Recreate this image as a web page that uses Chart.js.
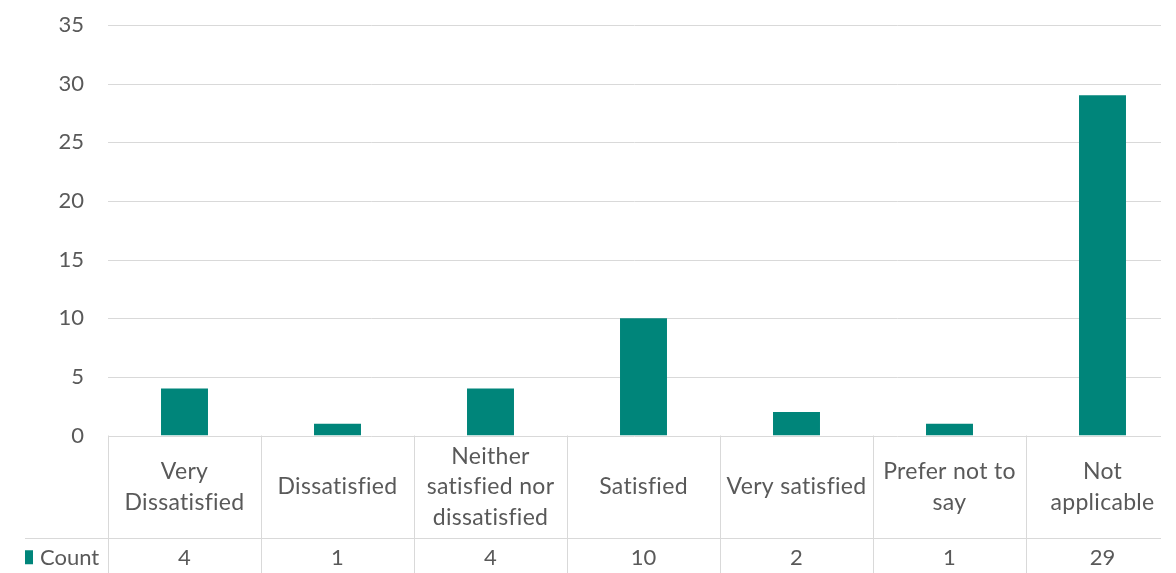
<!DOCTYPE html>
<html>
<head>
<meta charset="utf-8">
<script src="https://cdn.jsdelivr.net/npm/chart.js@4"></script>
<style>
  html, body { margin: 0; padding: 0; background: #fff; overflow: hidden; width: 1176px; height: 573px; }
  canvas { display: block; }
</style>
</head>
<body>
<canvas id="chart" width="1179" height="573" style="width:1179px;height:573px"></canvas>
<script>
// Survey responses: one count per answer
const categories = [
  ["Very", "Dissatisfied"],
  ["Dissatisfied"],
  ["Neither", "satisfied nor", "dissatisfied"],
  ["Satisfied"],
  ["Very satisfied"],
  ["Prefer not to", "say"],
  ["Not", "applicable"]
];
const counts = [4, 1, 4, 10, 2, 1, 29];
const seriesName = "Count";
const yMin = 0;
const yMax = 35;
const yStep = 5;

const BAR_COLOR = "#00857a";
const TEXT_COLOR = "#595959";
const LINE_COLOR = "#d9d9d9";
const FONT_FAMILY = "Lato, 'Open Sans', sans-serif";
const FONT_SIZE = 22;
const LABEL_FONT_SIZE = 23;

// Layout of the data table drawn under the plot
const GRID_RIGHT = 1161;      // where horizontal rules stop
const HEADER_BOTTOM = 538.5;  // rule between category row and value row
const TABLE_LEFT = 25;        // legend column starts here
const LINE_HEIGHT = 30.5;

const tablePlugin = {
  id: "dataTable",
  beforeDatasetsDraw(chart) {
    const { ctx, chartArea, scales } = chart;
    const y = scales.y;
    ctx.save();
    ctx.strokeStyle = LINE_COLOR;
    ctx.lineWidth = 1;
    // horizontal value gridlines
    y.ticks.forEach(t => {
      const py = Math.round(y.getPixelForValue(t.value)) + 0.5;
      ctx.beginPath();
      ctx.moveTo(chartArea.left, py);
      ctx.lineTo(GRID_RIGHT, py);
      ctx.stroke();
    });
    ctx.restore();
  },
  afterDraw(chart) {
    const { ctx, chartArea, scales } = chart;
    const x = scales.x;
    const bottom = chart.height;
    const colW = x.getPixelForValue(1) - x.getPixelForValue(0);
    const top = chartArea.bottom;
    ctx.save();
    ctx.strokeStyle = LINE_COLOR;
    ctx.lineWidth = 1;

    // vertical column separators
    for (let i = 0; i < categories.length; i++) {
      const px = Math.round(x.getPixelForValue(i) - colW / 2) + 0.5;
      ctx.beginPath();
      ctx.moveTo(px, top);
      ctx.lineTo(px, bottom);
      ctx.stroke();
    }
    // rule between header and value rows
    ctx.beginPath();
    ctx.moveTo(TABLE_LEFT, HEADER_BOTTOM);
    ctx.lineTo(GRID_RIGHT, HEADER_BOTTOM);
    ctx.stroke();

    ctx.fillStyle = TEXT_COLOR;
    ctx.font = `${LABEL_FONT_SIZE}px ${FONT_FAMILY}`;
    ctx.textAlign = "center";
    ctx.textBaseline = "middle";
    if ("letterSpacing" in ctx) ctx.letterSpacing = "0.3px";

    // category labels, vertically centred in the header row
    const headerMid = (top + HEADER_BOTTOM) / 2;
    categories.forEach((lines, i) => {
      const cx = x.getPixelForValue(i);
      const start = headerMid - (lines.length - 1) * LINE_HEIGHT / 2;
      lines.forEach((ln, j) => ctx.fillText(ln, cx, start + j * LINE_HEIGHT));
    });

    if ("letterSpacing" in ctx) ctx.letterSpacing = "0px";
    ctx.font = `${FONT_SIZE}px ${FONT_FAMILY}`;

    // value row
    const rowMid = (HEADER_BOTTOM + bottom) / 2 + 2;
    counts.forEach((v, i) => {
      ctx.fillText(String(v), x.getPixelForValue(i), rowMid);
    });

    // legend key + series name
    ctx.fillStyle = BAR_COLOR;
    ctx.fillRect(TABLE_LEFT, rowMid - 7.5, 8, 14);
    ctx.fillStyle = TEXT_COLOR;
    ctx.textAlign = "left";
    ctx.fillText(seriesName, TABLE_LEFT + 15, rowMid);
    ctx.restore();
  }
};

new Chart(document.getElementById("chart"), {
  type: "bar",
  data: {
    labels: categories,
    datasets: [{
      label: seriesName,
      data: counts,
      backgroundColor: BAR_COLOR,
      borderWidth: 0,
      categoryPercentage: 1,
      barPercentage: 0.307
    }]
  },
  options: {
    responsive: false,
    animation: false,
    devicePixelRatio: 1,
    layout: { padding: { top: 25, bottom: 137.5, left: 0, right: 0 } },
    plugins: {
      legend: { display: false },
      tooltip: { enabled: false }
    },
    scales: {
      x: { display: false },
      y: {
        min: yMin,
        max: yMax,
        ticks: {
          stepSize: yStep,
          padding: 24,
          color: TEXT_COLOR,
          font: { family: FONT_FAMILY, size: FONT_SIZE }
        },
        grid: { display: false, drawTicks: false },
        border: { display: false },
        afterFit(scale) {
          scale.width = 108;
          scale.paddingTop = 0;
          scale.paddingBottom = 0;
        }
      }
    }
  },
  plugins: [tablePlugin]
});
</script>
</body>
</html>
